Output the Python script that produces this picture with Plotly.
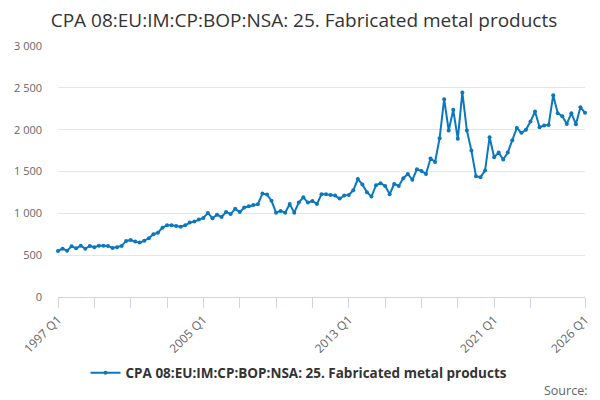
import plotly.graph_objects as go

start_year = 1997
n_points = 117
quarters = [f"{start_year + i // 4} Q{i % 4 + 1}" for i in range(n_points)]

values = [
    550, 578, 554, 606, 582, 614, 578, 610, 594, 614, 614, 610, 586, 594, 610, 670,
    680, 662, 650, 673, 702, 750, 769, 829, 857, 857, 849, 841, 857, 889, 901, 925,
    945, 1005, 941, 983, 957, 1016, 991, 1054, 1015, 1070, 1084, 1100, 1110, 1236,
    1224, 1150, 1008, 1029, 1008, 1112, 1008, 1128, 1192, 1128, 1148, 1112, 1228, 1228,
    1220, 1212, 1176, 1212, 1220, 1275, 1410, 1345, 1252, 1200, 1336, 1360, 1328, 1228,
    1352, 1328, 1420, 1471, 1400, 1527, 1507, 1471, 1655, 1615, 1898, 2365, 1990, 2237,
    1890, 2445, 1990, 1750, 1443, 1432, 1511, 1910, 1671, 1726, 1643, 1726, 1874, 2021,
    1962, 1998, 2097, 2217, 2029, 2049, 2057, 2412, 2197, 2161, 2069, 2197, 2065, 2269,
    2201,
]

series_name = "CPA 08:EU:IM:CP:BOP:NSA: 25. Fabricated metal products"
title_text = "CPA 08:EU:IM:CP:BOP:NSA: 25. Fabricated metal products"
labeled_ticks = ["1997 Q1", "2005 Q1", "2013 Q1", "2021 Q1", "2026 Q1"]
tick_positions = quarters[0:105:8] + [quarters[-1]]
tick_texts = [q if q in labeled_ticks else "" for q in tick_positions]
y_ticks = [0, 500, 1000, 1500, 2000, 2500, 3000]

FONT = "Open Sans"
LINE = "#0b77bf"
W, H = 592, 392   # page body adds an 8px offset

fig = go.Figure()
fig.add_trace(go.Scatter(
    x=quarters, y=values, mode="lines+markers",
    name="<b>" + series_name + "</b>",
    line=dict(color=LINE, width=2),
    marker=dict(color=LINE, size=4),
    cliponaxis=False,
))

fig.update_layout(
    width=W, height=H,
    margin=dict(l=50, r=15, t=38, b=103, autoexpand=False),
    paper_bgcolor="white", plot_bgcolor="white",
    separators=". ",
    font=dict(family=FONT, color="#666666", size=11),
    title=dict(text=title_text, x=0.5, xanchor="center", y=1 - 12.5 / H,
               yanchor="middle", font=dict(family=FONT, size=19, color="#333333")),
    showlegend=True,
    legend=dict(orientation="h", xref="container", x=291 / W, xanchor="center",
                yref="container", y=1 - 365 / H, yanchor="middle",
                font=dict(family=FONT, size=13.5, color="#333333"),
                itemwidth=30),
    annotations=[dict(text="Source:", xref="paper", yref="paper", x=1.0, xshift=4,
                      xanchor="right", y=(289 - 382) / 251, yanchor="middle",
                      showarrow=False, font=dict(family=FONT, size=12.5, color="#666666"))],
)

fig.update_xaxes(
    type="category", range=[0, n_points - 1], automargin=False,
    tickmode="array", tickvals=tick_positions, ticktext=tick_texts,
    tickangle=-45, ticks="outside", ticklen=10, tickcolor="#ccd6eb",
    showline=True, linecolor="#ccd6eb", linewidth=1,
    showgrid=False, zeroline=False,
    tickfont=dict(family=FONT, size=12, color="#666666"),
)
fig.update_yaxes(
    range=[0, 3000], tickvals=y_ticks, tickformat=",d", automargin=False,
    showgrid=True, gridcolor="#e6e6e6", gridwidth=1,
    zeroline=False, showline=False, ticks="",
    ticklabelstandoff=15,
    tickfont=dict(family=FONT, size=11, color="#666666"),
)

fig.write_html("out.html")
